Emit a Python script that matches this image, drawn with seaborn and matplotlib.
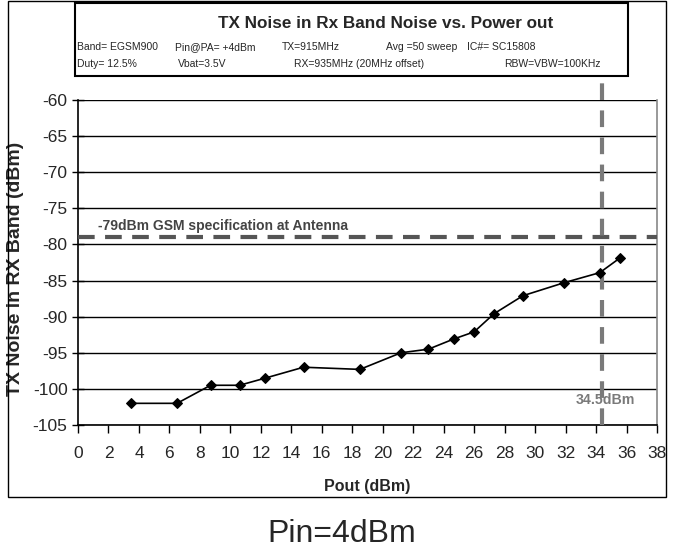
import pandas as pd
import matplotlib.pyplot as plt
import seaborn as sns
import numpy as np
from matplotlib.patches import Rectangle

# data
pout = [3.5, 6.5, 8.7, 10.6, 12.3, 14.8, 18.5, 21.2, 23.0, 24.65, 26.0, 27.3, 29.2, 31.9, 34.25, 35.55]
noise = [-102.0, -102.0, -99.5, -99.5, -98.5, -97.0, -97.3, -95.0, -94.5, -93.1, -92.1, -89.6, -87.1, -85.3, -83.9, -81.9]
spec_level = -79
pout_limit = 34.4
x_ticks = list(range(0, 39, 2))
y_ticks = list(range(-105, -59, 5))

df = pd.DataFrame({"pout": pout, "noise": noise})

sns.set_style("white")
plt.rcParams["font.family"] = ["Liberation Sans", "DejaVu Sans"]
plt.rcParams["axes.unicode_minus"] = False

fig = plt.figure(figsize=(6.75, 5.55), dpi=100)
ax = fig.add_axes([78 / 675, 1 - 425 / 555, 579 / 675, 325 / 555])

# grid lines
for y in y_ticks:
    ax.axhline(y, color="black", linewidth=1.0, zorder=1)

sns.lineplot(data=df, x="pout", y="noise", ax=ax, color="black", linewidth=1.2,
             marker="D", markersize=5, markeredgecolor="black", zorder=4)

# spec lines
ax.axhline(spec_level, color="#555555", linewidth=3, linestyle=(0, (4, 2.5)), zorder=3)
ax.axvline(pout_limit, ymin=0, ymax=1.068, color="#7a7a7a", linewidth=3,
           linestyle=(0, (4, 2.5)), zorder=3, clip_on=False)

ax.text(1.3, spec_level + 0.6, "-79dBm GSM specification at Antenna", fontsize=10,
        fontweight="bold", color="#444444", ha="left", va="bottom")
ax.text(34.6, -101.5, "34.5dBm", fontsize=10.2, fontweight="bold", color="#7a7a7a",
        ha="center", va="center", zorder=5)

ax.set_xlim(0, 38)
ax.set_ylim(-105, -60)
ax.set_xticks(x_ticks)
ax.set_yticks(y_ticks)
ax.tick_params(axis="x", direction="out", length=6, width=1, color="black",
               labelsize=12.5, bottom=True, pad=9)
ax.tick_params(axis="y", direction="inout", length=9, width=1, color="black",
               labelsize=12.5, left=True, pad=3)
for side in ["left", "bottom"]:
    ax.spines[side].set_color("black")
    ax.spines[side].set_linewidth(1.2)
ax.spines["top"].set_visible(False)
ax.spines["right"].set_color("#888888")
ax.spines["right"].set_linewidth(1.2)

ax.set_xlabel("Pout (dBm)", fontsize=11.5, fontweight="bold")
ax.xaxis.set_label_coords(0.5, -(479 - 425) / 325)
ax.set_ylabel("TX Noise in RX Band (dBm)", fontsize=14, fontweight="bold")
ax.yaxis.set_label_coords(-(78 - 24) / 579, 0.48)

# outer frame and title box
fig.patches.append(Rectangle((8 / 675, 1 - 497 / 555), 658 / 675, 496 / 555,
                             transform=fig.transFigure, fill=False,
                             edgecolor="black", linewidth=1.0))
fig.patches.append(Rectangle((75 / 675, 1 - 76 / 555), 553 / 675, 73 / 555,
                             transform=fig.transFigure, fill=False,
                             edgecolor="black", linewidth=1.5))

fig.text(386 / 675, 1 - 24 / 555, "TX Noise in Rx Band Noise vs. Power out",
         fontsize=12.3, fontweight="bold", ha="center", va="center")
row1 = [(77, "Band= EGSM900"), (175, "Pin@PA= +4dBm"), (282, "TX=915MHz"),
        (386, "Avg =50 sweep"), (467, "IC#= SC15808")]
row2 = [(77, "Duty= 12.5%"), (178, "Vbat=3.5V"), (294, "RX=935MHz (20MHz offset)"),
        (504, "RBW=VBW=100KHz")]
for xp, s in row1:
    fig.text(xp / 675, 1 - 47 / 555, s, fontsize=7.5, ha="left", va="center")
for xp, s in row2:
    fig.text(xp / 675, 1 - 64 / 555, s, fontsize=7.5, ha="left", va="center")

fig.text(342 / 675, 1 - 534 / 555, "Pin=4dBm", fontsize=23, ha="center", va="center")

fig.savefig("out.png", dpi=100)
